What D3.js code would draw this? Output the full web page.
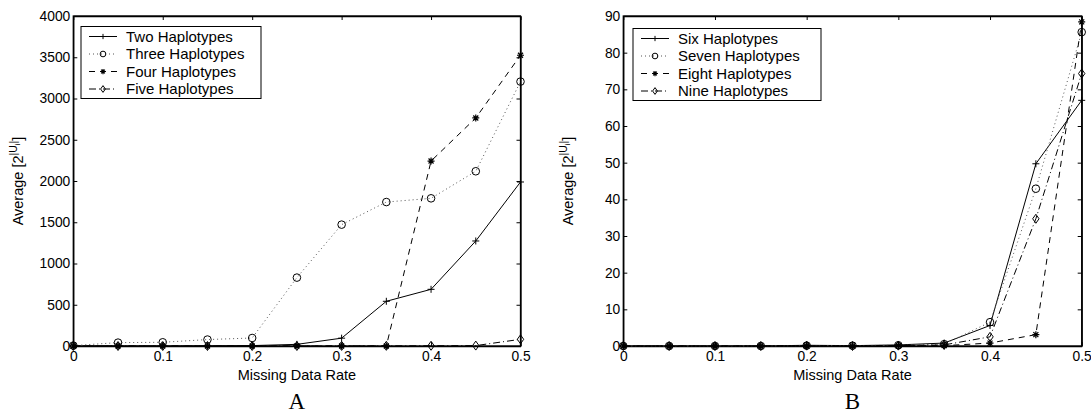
<!DOCTYPE html>
<html>
<head>
<meta charset="utf-8">
<script src="https://cdn.jsdelivr.net/npm/d3@7"></script>
<style>
  body { margin: 0; background: #fff; }
  svg { font-family: "Liberation Sans", Arial, sans-serif; }
  .tick text { font-size: 13.8px; fill: #000; }
  .legend text { font-size: 15px; }
</style>
</head>
<body>
<svg id="chart" width="1091" height="420"></svg>
<script>
const rates = [0, 0.05, 0.1, 0.15, 0.2, 0.25, 0.3, 0.35, 0.4, 0.45, 0.5];

// panel A
const twoHap   = [0, 0, 0, 2, 5, 20, 95, 542, 687, 1273, 1988];
const threeHap = [5, 41, 45, 78, 97, 829, 1471, 1745, 1790, 2118, 3205];
const fourHap  = [0, 0, 0, 0, 0, 0, 0, 0, 2242, 2764, 3524];
const fiveHap  = [0, 0, 0, 0, 0, 0, 1, 2, 3, 5, 81];

// panel B
const sixHap   = [0, 0, 0, 0, 0.2, 0.1, 0.3, 0.8, 5.6, 49.7, 67];
const sevenHap = [0, 0, 0, 0, 0.1, 0.1, 0.2, 0.5, 6.5, 42.9, 85.6];
const eightHap = [0, 0, 0, 0, 0, 0, 0.1, 0.1, 0.8, 3.1, 88.4];
const nineHap  = [0, 0, 0, 0, 0.1, 0, 0.1, 0.3, 2.5, 34.7, 74.3];

const xTicks = [0, 0.1, 0.2, 0.3, 0.4, 0.5];
const yTicksA = [0, 500, 1000, 1500, 2000, 2500, 3000, 3500, 4000];
const yTicksB = [0, 10, 20, 30, 40, 50, 60, 70, 80, 90];

const styles = [
  {dash: null,   color: "#000", marker: "plus"},
  {dash: "1,3",  color: "#555", marker: "circle"},
  {dash: "6,5",  color: "#000", marker: "star"},
  {dash: "7,3,1,3", color: "#000", marker: "diamond"}
];

const svg = d3.select("#chart");

function marker(g, type, x, y, s) {
  s = s || 1;
  if (type === "plus") {
    const r = 3.5 * s;
    g.append("path").attr("d", `M${x-r},${y}H${x+r}M${x},${y-r}V${y+r}`)
      .attr("stroke", "#000").attr("stroke-width", 1);
  } else if (type === "circle") {
    g.append("circle").attr("cx", x).attr("cy", y).attr("r", 3.8 * s)
      .attr("fill", "none").attr("stroke", "#000").attr("stroke-width", 1);
  } else if (type === "star") {
    const r = 3.5 * s, q = 2.5 * s;
    g.append("path").attr("d", `M${x-r},${y}H${x+r}M${x},${y-r}V${y+r}M${x-q},${y-q}L${x+q},${y+q}M${x-q},${y+q}L${x+q},${y-q}`)
      .attr("stroke", "#000").attr("stroke-width", 1.2);
  } else {
    const h = 4.5 * s, w = 3.2 * s;
    g.append("path").attr("d", `M${x},${y-h}L${x+w},${y}L${x},${y+h}L${x-w},${y}Z`)
      .attr("fill", "none").attr("stroke", "#000").attr("stroke-width", 1);
  }
}

function panel(opt) {
  const x = d3.scaleLinear().domain([0, 0.5]).range([opt.left, opt.right]);
  const y = d3.scaleLinear().domain([0, opt.ymax]).range([346, 16]);
  const g = svg.append("g");

  // frame ticks (inside)
  g.append("g").attr("transform", "translate(0,346)")
    .call(d3.axisBottom(x).tickValues(xTicks).tickSizeInner(-4).tickSizeOuter(0).tickPadding(5)
      .tickFormat(d => d === 0 ? "0" : d3.format(".1f")(d)));
  g.append("g").attr("transform", "translate(0,16)")
    .call(d3.axisTop(x).tickValues(xTicks).tickSizeInner(-4).tickSizeOuter(0).tickFormat(""));
  g.append("g").attr("transform", `translate(${opt.left},0)`)
    .call(d3.axisLeft(y).tickValues(opt.yTicks).tickSizeInner(-4).tickSizeOuter(0).tickPadding(3)
      .tickFormat(d3.format("d")));
  g.append("g").attr("transform", `translate(${opt.right},0)`)
    .call(d3.axisRight(y).tickValues(opt.yTicks).tickSizeInner(-4).tickSizeOuter(0).tickFormat(""));
  g.selectAll(".domain").attr("stroke", "#000").attr("stroke-width", 1.3);
  g.selectAll(".tick line").attr("stroke", "#000");
  g.append("rect").attr("x", opt.left).attr("y", 16)
    .attr("width", opt.right - opt.left).attr("height", 330)
    .attr("fill", "none").attr("stroke", "#000").attr("stroke-width", 1.3);

  const line = d3.line().x((d, i) => x(rates[i])).y(d => y(d));
  opt.series.forEach((s, k) => {
    const st = styles[k];
    g.append("path").attr("d", line(s)).attr("fill", "none")
      .attr("stroke", st.color).attr("stroke-width", 1)
      .attr("stroke-dasharray", st.dash);
  });
  opt.series.forEach((s, k) => {
    s.forEach((v, i) => marker(g, styles[k].marker, x(rates[i]), y(v)));
  });

  // legend
  const lg = g.append("g").attr("class", "legend");
  lg.append("rect").attr("x", opt.lx).attr("y", opt.ly)
    .attr("width", opt.lw).attr("height", 72)
    .attr("fill", "#fff").attr("stroke", "#000").attr("stroke-width", 1);
  opt.names.forEach((n, k) => {
    const st = styles[k];
    const yy = opt.ly + 10 + k * 17.5;
    lg.append("line").attr("x1", opt.lx + 8).attr("x2", opt.lx + 36)
      .attr("y1", yy).attr("y2", yy)
      .attr("stroke", st.color).attr("stroke-width", 1).attr("stroke-dasharray", st.dash);
    marker(lg, st.marker, opt.lx + 22, yy, 0.75);
    lg.append("text").attr("x", opt.lx + 45).attr("y", yy).attr("dy", "0.36em").text(n);
  });

  // axis labels
  const cx = (opt.left + opt.right) / 2;
  g.append("text").attr("x", cx).attr("y", 380).attr("text-anchor", "middle")
    .attr("font-size", 14.5).text("Missing Data Rate");
  const yl = g.append("text").attr("transform", `translate(${opt.left - 50},181) rotate(-90)`)
    .attr("text-anchor", "middle").attr("font-size", 14.5);
  yl.append("tspan").text("Average [2");
  yl.append("tspan").attr("font-size", 10.5).attr("dy", -6).text("|U");
  yl.append("tspan").attr("font-size", 8).attr("dy", 3).text("i");
  yl.append("tspan").attr("font-size", 10.5).attr("dy", -3).text("|");
  yl.append("tspan").attr("dy", 6).text("]");
  g.append("text").attr("x", cx).attr("y", 409).attr("text-anchor", "middle")
    .attr("font-family", "Liberation Serif, serif").attr("font-size", 23).text(opt.tag);
}

panel({
  left: 73.3, right: 520.5, ymax: 4000, yTicks: yTicksA,
  series: [twoHap, threeHap, fourHap, fiveHap],
  names: ["Two Haplotypes", "Three Haplotypes", "Four Haplotypes", "Five Haplotypes"],
  lx: 81, ly: 26.5, lw: 180, tag: "A"
});
panel({
  left: 623.3, right: 1081.7, ymax: 90, yTicks: yTicksB,
  series: [sixHap, sevenHap, eightHap, nineHap],
  names: ["Six Haplotypes", "Seven Haplotypes", "Eight Haplotypes", "Nine Haplotypes"],
  lx: 633, ly: 28.5, lw: 188, tag: "B"
});
</script>
</body>
</html>
